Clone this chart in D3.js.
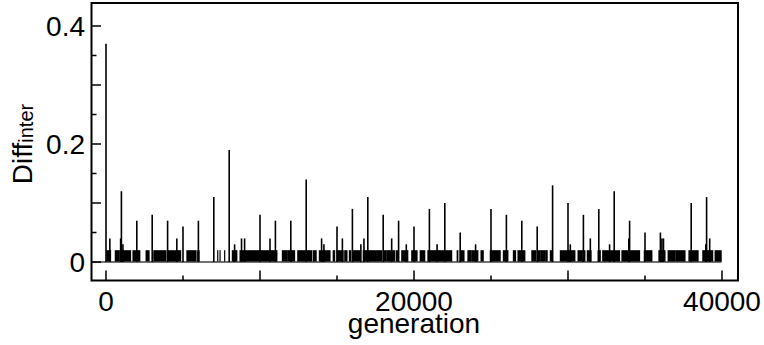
<!DOCTYPE html>
<html>
<head>
<meta charset="utf-8">
<script src="https://cdn.jsdelivr.net/npm/d3@7/dist/d3.min.js"></script>
<style>
  body { margin: 0; background: #fff; }
  text { font-family: "Liberation Sans", Arial, sans-serif; fill: #000; }
</style>
</head>
<body>
<script>
// isolated spikes: generation and Diff_inter value
const spikeGen = [0, 250, 950, 1000, 1100, 2000, 3000, 4000, 4600, 5000, 6000, 7000, 8000, 8350, 8800, 9000,
  10000, 10650, 11000, 12000, 13000, 14000, 14150, 15000, 15350, 16000, 16550, 16750, 17000, 18000, 18550, 19000, 19500,
  20000, 21000, 21500, 22000, 23000, 24000, 25000, 26000, 27000, 28000, 29000, 30000, 30150, 31000, 31450, 32000, 32700,
  33000, 33950, 34000, 35000, 36000, 36100, 36200, 38000, 38950, 39000, 39200]
const spikeVal = [0.37, 0.04, 0.04, 0.12, 0.03, 0.07, 0.08, 0.07, 0.04, 0.06, 0.07, 0.11, 0.19, 0.03, 0.04, 0.04,
  0.08, 0.04, 0.07, 0.07, 0.14, 0.04, 0.03, 0.06, 0.04, 0.09, 0.03, 0.04, 0.11, 0.08, 0.04, 0.07, 0.03,
  0.06, 0.09, 0.03, 0.10, 0.05, 0.03, 0.09, 0.08, 0.07, 0.06, 0.13, 0.10, 0.03, 0.08, 0.04, 0.09, 0.03,
  0.12, 0.04, 0.07, 0.05, 0.05, 0.04, 0.04, 0.10, 0.03, 0.11, 0.04]

// stretches of generations where Diff_inter sits at the low level
const bandLevel = 0.02
const bandStart = [50, 600, 900, 1750, 2600, 3100, 4000, 5250, 5950, 7250, 7400, 7700, 8200, 8700, 10000, 11450, 11800,
  12450, 13450, 13850, 14750, 15000, 15500, 15800, 16050, 16700, 18000, 18250, 18850, 19200, 19850, 20400, 20900, 22800,
  23000, 23500, 23750, 24350, 24950, 25800, 26450, 26750, 27650, 28000, 28250, 28550, 28850, 29500, 30650, 30950, 31250,
  31950, 32250, 33500, 34950, 35900, 36500, 37000, 37850, 38750, 39550]
const bandEnd = [300, 850, 1600, 2200, 2800, 3900, 4850, 5850, 6050, 7250, 7400, 7700, 8500, 9950, 11100, 11750, 12250,
  13350, 13650, 14550, 14850, 15400, 15650, 15900, 16500, 17900, 18200, 18750, 19000, 19600, 20200, 20700, 22450, 22850,
  23250, 23700, 24150, 24500, 25600, 26100, 26600, 27200, 27900, 28200, 28500, 28650, 29000, 30450, 30900, 31100, 31500,
  32100, 33350, 34650, 35450, 36300, 36950, 37600, 38450, 39400, 39950]

const xTickLabels = [0, 20000, 40000]
const yTickLabels = [0, 0.2, 0.4]
const lastGen = 39950

const box = { width: 764, height: 345, left: 91.5, top: 3, right: 738, bottom: 280.5 }

const svg = d3.select('body').append('svg')
  .attr('width', box.width).attr('height', box.height)
  .style('display', 'block')

const xScale = d3.scaleLinear().domain([0, 40000]).range([106, 722])
const yScale = d3.scaleLinear().domain([0, 0.4]).range([262, 26])

// low level stretches
svg.append('g').selectAll('rect')
  .data(d3.range(bandStart.length))
  .join('rect')
  .attr('x', i => xScale(bandStart[i]) - 0.5)
  .attr('width', i => Math.max(1.2, xScale(bandEnd[i]) - xScale(bandStart[i]) + 1))
  .attr('y', yScale(bandLevel))
  .attr('height', yScale(0) - yScale(bandLevel))
  .attr('fill', '#000')

// zero trace
svg.append('line')
  .attr('x1', box.left).attr('x2', xScale(lastGen))
  .attr('y1', yScale(0)).attr('y2', yScale(0))
  .attr('stroke', '#444').attr('stroke-width', 1.5)

// spikes
svg.append('g').selectAll('line')
  .data(d3.range(spikeGen.length))
  .join('line')
  .attr('x1', i => xScale(spikeGen[i])).attr('x2', i => xScale(spikeGen[i]))
  .attr('y1', yScale(0)).attr('y2', i => yScale(spikeVal[i]))
  .attr('stroke', '#000').attr('stroke-width', 1.6)

// frame
svg.append('rect')
  .attr('x', box.left).attr('y', box.top)
  .attr('width', box.right - box.left).attr('height', box.bottom - box.top)
  .attr('fill', 'none').attr('stroke', '#000').attr('stroke-width', 2)

// y ticks (inward)
const yTicks = svg.append('g')
yTicks.selectAll('line')
  .data(d3.range(0, 0.4001, 0.05))
  .join('line')
  .attr('x1', box.left)
  .attr('x2', (d, i) => box.left + (i % 2 === 0 ? 9.5 : 5))
  .attr('y1', d => yScale(d)).attr('y2', d => yScale(d))
  .attr('stroke', '#000').attr('stroke-width', 1.5)
yTicks.selectAll('text')
  .data(yTickLabels)
  .join('text')
  .attr('x', 85).attr('y', d => yScale(d)).attr('dy', '0.36em')
  .attr('text-anchor', 'end').attr('font-size', 28)
  .text(d => d === 0 ? '0' : d3.format('.1f')(d))

// x ticks (upward from bottom)
const xTicks = svg.append('g')
xTicks.selectAll('line')
  .data(d3.range(0, 40001, 5000))
  .join('line')
  .attr('x1', d => xScale(d)).attr('x2', d => xScale(d))
  .attr('y1', box.bottom)
  .attr('y2', (d, i) => box.bottom - (i % 2 === 0 ? 10 : 5))
  .attr('stroke', '#000').attr('stroke-width', 1.5)
xTicks.selectAll('text')
  .data(xTickLabels)
  .join('text')
  .attr('x', d => xScale(d)).attr('y', 311)
  .attr('text-anchor', 'middle').attr('font-size', 28)
  .text(d => d)

// axis titles
svg.append('text')
  .attr('x', (xScale(0) + xScale(40000)) / 2).attr('y', 333)
  .attr('text-anchor', 'middle').attr('font-size', 28)
  .text('generation')

const yTitle = svg.append('text')
  .attr('transform', 'translate(32,144) rotate(-90)')
  .attr('text-anchor', 'middle').attr('font-size', 28)
yTitle.append('tspan').text('Diff')
yTitle.append('tspan').attr('font-size', 20).attr('dy', 1).text('inter')
</script>
</body>
</html>
